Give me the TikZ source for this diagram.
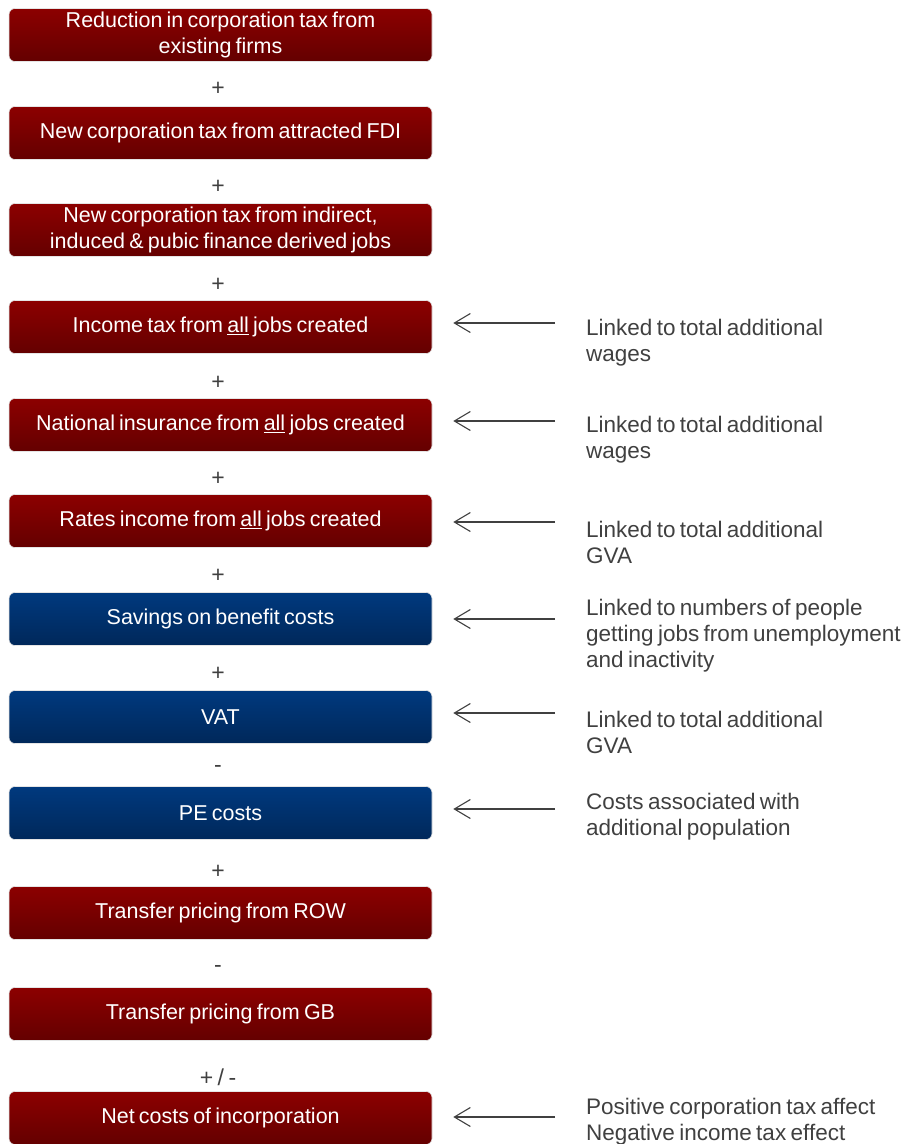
\documentclass[tikz,border=0pt]{standalone}
\usepackage{fontspec}
\setmainfont[WordSpace=0.7]{Liberation Sans}
\usepackage{tikz}
\usetikzlibrary{arrows.meta}
\definecolor{redtop}{RGB}{140,0,0}
\definecolor{redbot}{RGB}{100,0,0}
\definecolor{bluetop}{RGB}{0,57,126}
\definecolor{bluebot}{RGB}{0,40,90}
\definecolor{notegray}{RGB}{64,64,64}
\tikzset{
  every node/.append style={font=\fontsize{21.5}{26}\selectfont},
  taxbox/.style={rounded corners=6pt, draw=white!80!gray, line width=0.6pt,
    minimum width=423pt, minimum height=53pt, inner sep=2pt,
    align=center, text=white},
  redbox/.style={taxbox, top color=redtop, bottom color=redbot},
  bluebox/.style={taxbox, top color=bluetop, bottom color=bluebot},
  sign/.style={text=notegray, font=\fontsize{23}{26}\selectfont},
  note/.style={text=notegray, align=left, anchor=west, inner sep=0pt,
    font=\fontsize{22.5}{26}\selectfont},
  linkarrow/.style={draw=notegray, line width=1.1pt, shorten >=21pt,
    -{Straight Barb[length=16pt, width=19pt, line width=1.1pt]}}
}

\begin{document}
\begin{tikzpicture}[x=1pt, y=-1pt]
    \useasboundingbox (0,0) rectangle (901,1144);
    % boxes
    \node[redbox] (b1) at (220.5,35) {Reduction in corporation tax from\\existing firms};
    \node[redbox] (b2) at (220.5,133) {New corporation tax from attracted FDI};
    \node[redbox] (b3) at (220.5,230) {New corporation tax from indirect,\\induced \& pubic finance derived jobs};
    \node[redbox] (b4) at (220.5,327) {Income tax from \underline{all} jobs created};
    \node[redbox] (b5) at (220.5,425) {National insurance from \underline{all} jobs created};
    \node[redbox] (b6) at (220.5,521) {Rates income from \underline{all} jobs created};
    \node[bluebox] (b7) at (220.5,619) {Savings on benefit costs};
    \node[bluebox] (b8) at (220.5,717) {VAT};
    \node[bluebox] (b9) at (220.5,813) {PE costs};
    \node[redbox] (b10) at (220.5,913) {Transfer pricing from ROW};
    \node[redbox] (b11) at (220.5,1014) {Transfer pricing from GB};
    \node[redbox] (b12) at (220.5,1118) {Net costs of incorporation};
    % signs between boxes
    \foreach \y/\s in {89/+, 187/+, 285/+, 383/+, 479/+, 576/+, 674/+, 769/-, 872/+, 969/-, 1077/{+ / -}}
        \node[sign] at (218,\y) {\s};
    % notes
    \node[note] (n4) at (586,343) {Linked to total additional\\wages};
    \node[note] (n5) at (586,440) {Linked to total additional\\wages};
    \node[note] (n6) at (586,542) {Linked to total additional\\GVA};
    \node[note] (n7) at (586,636) {Linked to numbers of people\\getting jobs from unemployment\\and inactivity};
    \node[note] (n8) at (586,732) {Linked to total additional\\GVA};
    \node[note] (n9) at (586,817) {Costs associated with\\additional population};
    \node[note] (n12) at (586,1122) {Positive corporation tax affect\\Negative income tax effect};
    % arrows
    \coordinate (t4) at (555,323);
    \coordinate (t5) at (555,421);
    \coordinate (t6) at (555,522);
    \coordinate (t7) at (555,619);
    \coordinate (t8) at (555,713);
    \coordinate (t9) at (555,809);
    \coordinate (t12) at (555,1117);
    \foreach \i in {4,5,6,7,8,9,12}
        \draw[linkarrow] (t\i) -- (t\i -| b\i.east);
\end{tikzpicture}
\end{document}
